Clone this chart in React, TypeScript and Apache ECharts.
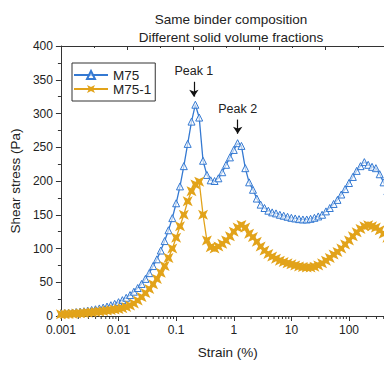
import React, { useEffect, useRef } from 'react';
import * as echarts from 'echarts';

const strain = [
  0.001, 0.001166, 0.001359, 0.001585, 0.001848, 0.002154, 0.002512, 0.002929, 0.003415, 0.003981, 0.004642, 0.005412, 0.00631, 0.007356, 0.008577,
  0.01, 0.01166, 0.01359, 0.01585, 0.01848, 0.02154, 0.02512, 0.02929, 0.03415, 0.03981, 0.04642, 0.05412, 0.0631, 0.07356, 0.08577,
  0.1, 0.1166, 0.1359, 0.1585, 0.1848, 0.2154, 0.2512, 0.2929, 0.3415, 0.3981, 0.4642, 0.5412, 0.631, 0.7356, 0.8577,
  1, 1.166, 1.359, 1.585, 1.848, 2.154, 2.512, 2.929, 3.415, 3.981, 4.642, 5.412, 6.31, 7.356, 8.577,
  10, 11.66, 13.59, 15.85, 18.48, 21.54, 25.12, 29.29, 34.15, 39.81, 46.42, 54.12, 63.1, 73.56, 85.77,
  100, 116.6, 135.9, 158.5, 184.8, 215.4, 251.2, 292.9, 341.5, 398.1, 464.2, 541.2, 631, 735.6,
];

const m75 = [
  4, 4.3, 4.7, 5.2, 5.8, 6.4, 7.1, 8, 9, 10, 11.2, 12.5, 14, 16, 18,
  20.5, 23.5, 27, 31, 36, 41.5, 47.5, 55, 63.5, 74, 84, 97, 111, 127, 145,
  167, 192, 222, 255, 288, 313, 294, 230, 209, 201, 200, 204, 213, 224, 235,
  246, 256, 252, 219, 198, 187, 174, 165, 160, 156, 153.5, 152, 150, 148.5, 147,
  145.5, 144.5, 143.5, 143, 143, 144, 145.5, 147.5, 150, 155, 160, 166, 172, 180, 188,
  197, 206, 215, 222, 228, 224, 221, 219, 210, 198, 185, 172, 160, 150,
];

const m751 = [
  2.5, 2.7, 3, 3.3, 3.6, 4, 4.4, 4.9, 5.4, 6, 6.6, 7.3, 8, 8.8, 9.5,
  10.3, 11.5, 13.3, 15.5, 18.5, 23, 28, 34, 40, 47, 55, 64, 74, 86, 100,
  116, 133, 150, 170, 185, 195, 199, 150, 112, 102, 100, 103, 107, 112, 118,
  125, 131, 135, 131, 122, 117, 110, 103, 97, 92, 88, 85, 82, 80, 78,
  76.5, 75, 73.5, 72.5, 72, 72, 73, 75, 78, 82, 86, 91, 95, 100, 106,
  112, 118, 124, 129, 133, 134.5, 133, 131, 127, 122, 116, 110, 104, 98,
];

const seriesNames = ['M75', 'M75-1'];
const titleLines = ['Same binder composition', 'Different solid volume fractions'];

const peakLabels = ['Peak 1', 'Peak 2'];
const peakStrain = [0.203, 1.17];
const arrowTop = [347, 291];
const arrowBottom = [325, 270];

const minorTicks = [
  0.002, 0.003, 0.004, 0.005, 0.006, 0.007, 0.008, 0.009,
  0.02, 0.03, 0.04, 0.05, 0.06, 0.07, 0.08, 0.09,
  0.2, 0.3, 0.4, 0.5, 0.6, 0.7, 0.8, 0.9,
  2, 3, 4, 5, 6, 7, 8, 9,
  20, 30, 40, 50, 60, 70, 80, 90,
  200, 300, 400, 500, 600, 700, 800, 900,
];

const BLUE = '#3479d2';
const ORANGE = '#e2a31a';
const AXIS = '#333333';
const FONT = "'Liberation Sans', Arial, sans-serif";
const STAR = 'path://M0,0 L5,2.4 L10,0 L7.6,5 L10,10 L5,7.6 L0,10 L2.4,5 Z';

// The original figure is cropped on the right: the chart canvas is wider than the view.
const CHART_W = 430;
const CHART_H = 365;

export default function App() {
  const ref = useRef<HTMLDivElement>(null);

  useEffect(() => {
    const chart = echarts.init(ref.current!, null, { renderer: 'svg' });
    const blueData = strain.map((s, i) => [s, m75[i]]);
    const orangeData = strain.map((s, i) => [s, m751[i]]);

    chart.setOption({
      animation: false,
      backgroundColor: '#ffffff',
      textStyle: { fontFamily: FONT },
      title: {
        text: titleLines.join('\n'),
        left: 226,
        top: 5,
        textAlign: 'center',
        textStyle: { fontSize: 13.5, fontWeight: 'normal', color: '#222', lineHeight: 18, fontFamily: FONT },
      },
      legend: {
        data: seriesNames,
        orient: 'vertical',
        left: 72,
        top: 63,
        padding: [5, 4, 5, 1],
        itemGap: 0,
        itemWidth: 34,
        itemHeight: 10,
        borderColor: '#333',
        borderWidth: 1,
        textStyle: { fontSize: 13.5, color: '#222', lineHeight: 13, fontFamily: FONT },
      },
      grid: { left: 58, top: 46, bottom: 49, right: CHART_W - 406.6 },
      xAxis: [
        {
          type: 'log',
          logBase: 10,
          min: 0.001,
          max: 1000,
          position: 'bottom',
          name: 'Strain (%)',
          nameLocation: 'middle',
          nameGap: 29,
          nameTextStyle: { fontSize: 13.5, color: '#222', padding: [0, 12, 0, 0], fontFamily: FONT },
          axisLine: { show: true, lineStyle: { color: AXIS, width: 1 } },
          axisTick: { show: true, inside: false, length: 5, lineStyle: { color: AXIS } },
          axisLabel: {
            fontSize: 12,
            color: '#222',
            margin: 8,
            fontFamily: FONT,
            showMaxLabel: false,
            formatter: (v: number) => (v < 1 ? String(Number(v.toPrecision(1))) : String(Math.round(v))),
          },
          splitLine: { show: false },
        },
        {
          type: 'value',
          position: 'top',
          min: 0,
          max: 5.227,
          interval: 1,
          axisLine: { show: true, lineStyle: { color: AXIS, width: 1 } },
          axisTick: { show: true, inside: true, length: 4, lineStyle: { color: AXIS } },
          minorTick: { show: true, splitNumber: 2, length: 2, lineStyle: { color: AXIS } },
          axisLabel: { show: false },
          splitLine: { show: false },
        },
      ],
      yAxis: {
        type: 'value',
        min: 0,
        max: 400,
        interval: 50,
        name: 'Shear stress (Pa)',
        nameLocation: 'middle',
        nameGap: 31,
        nameTextStyle: { fontSize: 13.5, color: '#222', fontFamily: FONT },
        axisLine: { show: true, lineStyle: { color: AXIS, width: 1 } },
        axisTick: { show: true, inside: false, length: 5, lineStyle: { color: AXIS } },
        minorTick: { show: true, splitNumber: 2, length: 3, lineStyle: { color: AXIS } },
        axisLabel: { fontSize: 12, color: '#222', margin: 8, fontFamily: FONT },
        splitLine: { show: false },
      },
      series: [
        {
          name: seriesNames[0],
          type: 'line',
          data: blueData,
          symbol: 'triangle',
          symbolSize: 7,
          showSymbol: true,
          itemStyle: { color: 'rgba(255,255,255,0.6)', borderColor: BLUE, borderWidth: 1 },
          lineStyle: { color: BLUE, width: 1.3 },
          emphasis: { disabled: true },
          markLine: {
            silent: true,
            symbol: ['none', 'arrow'],
            symbolSize: 7,
            lineStyle: { color: '#111', width: 1.2, type: 'solid' },
            label: { show: true, position: 'start', formatter: '{b}', fontSize: 12.5, color: '#222', fontFamily: FONT, distance: 4 },
            emphasis: { disabled: true },
            data: peakLabels.map((n, i) => [
              { name: n, coord: [peakStrain[i], arrowTop[i]] },
              { coord: [peakStrain[i], arrowBottom[i]] },
            ]),
          },
        },
        {
          name: seriesNames[1],
          type: 'line',
          data: orangeData,
          symbol: STAR,
          symbolSize: 10,
          showSymbol: true,
          itemStyle: { color: ORANGE },
          lineStyle: { color: ORANGE, width: 1.3 },
          emphasis: { disabled: true },
        },
        {
          type: 'custom',
          silent: true,
          xAxisIndex: 0,
          yAxisIndex: 0,
          data: minorTicks.map((v) => [v, 0]),
          renderItem: (params: any, api: any) => {
            const p = api.coord([api.value(0), 0]);
            return {
              type: 'line',
              shape: { x1: p[0], y1: p[1], x2: p[0], y2: p[1] + 3 },
              style: { stroke: AXIS, lineWidth: 1 },
            };
          },
        },
      ],
    });

    return () => chart.dispose();
  }, []);

  return (
    <div style={{ position: 'fixed', left: 0, top: 0, width: 384, height: 365, overflow: 'hidden', background: '#fff' }}>
      <div ref={ref} style={{ width: CHART_W, height: CHART_H }} />
    </div>
  );
}
